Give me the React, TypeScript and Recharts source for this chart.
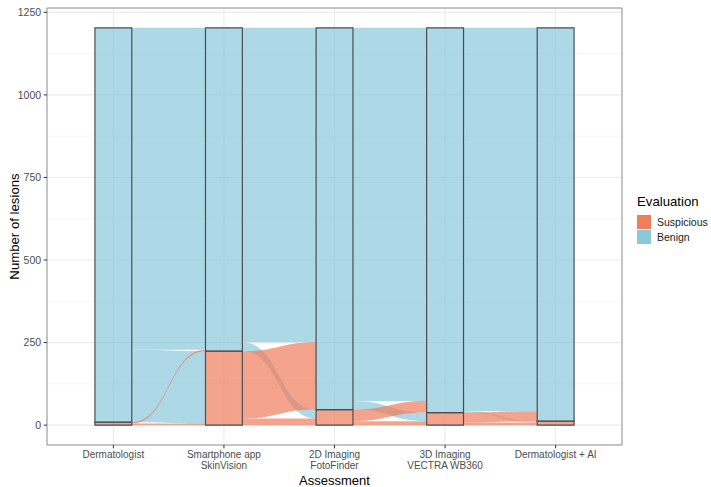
import React from 'react';
import { ComposedChart, Area, XAxis, YAxis, CartesianGrid, ReferenceArea, Legend } from 'recharts';

// ---- data ----
const categories = [
  'Dermatologist',
  'Smartphone app\nSkinVision',
  '2D Imaging\nFotoFinder',
  '3D Imaging\nVECTRA WB360',
  'Dermatologist + AI',
];
const evaluations = ['Suspicious', 'Benign'];
const suspiciousCounts = [9, 224, 47, 38, 12];
const benignCounts = [1194, 979, 1156, 1165, 1191];
// flows between consecutive assessments (left evaluation -> right evaluation)
const flowSusToSus = [5, 20, 12, 8];
const flowSusToBen = [4, 204, 35, 30];
const flowBenToSus = [219, 27, 26, 4];
const flowBenToBen = [975, 952, 1130, 1161];
const yTicks = [0, 250, 500, 750, 1000, 1250];
const yMinorTicks = [125, 375, 625, 875, 1125];
const xTicks = [1, 2, 3, 4, 5];

// ---- style ----
const COLORS: Record<string, string> = { Suspicious: '#EF7E5B', Benign: '#8AC8DC' };
const ALPHA = 0.7;
const HALF = 1 / 6;
const FONT = '"Liberation Sans", Arial, Helvetica, sans-serif';

const total = suspiciousCounts[0] + benignCounts[0];
const pad = total * 0.05;
const yDomain = [-pad, total + pad];
const xDomain = [0.4, 5.6];

type Flow = { key: string; color: string; data: { x: number; r: [number, number] }[] };

function buildFlows(): Flow[] {
  const blue: Flow[] = [];
  const salmon: Flow[] = [];
  for (let g = 0; g < flowSusToSus.length; g++) {
    const ss = flowSusToSus[g];
    const sb = flowSusToBen[g];
    const bs = flowBenToSus[g];
    const bb = flowBenToBen[g];
    const sL = suspiciousCounts[g];
    const sR = suspiciousCounts[g + 1];
    const xl = g + 1 + HALF;
    const xr = g + 2 - HALF;
    const mk = (a: [number, number], b: [number, number]) => [
      { x: xl, r: a },
      { x: xr, r: b },
    ];
    blue.push({ key: `bb${g}`, color: COLORS.Benign, data: mk([sL + bs, sL + bs + bb], [sR + sb, sR + sb + bb]) });
    blue.push({ key: `bs${g}`, color: COLORS.Benign, data: mk([sL, sL + bs], [ss, ss + bs]) });
    salmon.push({ key: `ss${g}`, color: COLORS.Suspicious, data: mk([0, ss], [0, ss]) });
    salmon.push({ key: `sb${g}`, color: COLORS.Suspicious, data: mk([ss, ss + sb], [sR, sR + sb]) });
  }
  return [...blue, ...salmon];
}

const flows = buildFlows();

const XTick = (props: any) => {
  const { x, y, payload } = props;
  const lines = categories[payload.value - 1].split('\n');
  return (
    <g>
      {lines.map((l, i) => (
        <text
          key={i}
          x={x}
          y={y + 7 + i * 11.6}
          textAnchor="middle"
          fill="#4D4D4D"
          fontSize={10}
          fontFamily={FONT}
        >
          {l}
        </text>
      ))}
    </g>
  );
};

const YTick = (props: any) => {
  const { x, y, payload } = props;
  return (
    <text x={x} y={y} dy="0.36em" textAnchor="end" fill="#4D4D4D" fontSize={10.5} fontFamily={FONT}>
      {payload.value}
    </text>
  );
};

const LegendContent = () => (
  <div style={{ fontFamily: FONT }}>
    <div style={{ fontSize: 13.2, lineHeight: '16px', color: '#000', marginBottom: 5 }}>Evaluation</div>
    {evaluations.map((ev) => (
      <div key={ev} style={{ display: 'flex', alignItems: 'center', height: 14.5 }}>
        <div
          style={{
            width: 14,
            height: 14,
            background: COLORS[ev],
          }}
        />
        <span style={{ fontSize: 10.5, marginLeft: 6, color: '#1A1A1A' }}>{ev}</span>
      </div>
    ))}
  </div>
);

export default function App() {
  return (
    <div style={{ position: 'absolute', left: 0, top: 0, background: '#fff' }}>
      <ComposedChart width={711} height={487} margin={{ top: 8, right: 89, bottom: 0, left: 0 }}>
        <CartesianGrid
          horizontalValues={yMinorTicks}
          vertical={false}
          stroke="#F0F0F0"
          strokeWidth={0.6}
        />
        <CartesianGrid
          horizontalValues={yTicks}
          verticalValues={xTicks}
          stroke="#EBEBEB"
          strokeWidth={1.1}
        />
        <XAxis
          type="number"
          dataKey="x"
          domain={xDomain}
          allowDataOverflow
          ticks={xTicks}
          interval={0}
          height={42}
          axisLine={false}
          tickLine={{ stroke: '#333333' }}
          tickSize={3.3}
          tickMargin={2.2}
          tick={<XTick />}
          label={{
            value: 'Assessment',
            position: 'insideBottom',
            offset: 2.5,
            style: { fontSize: 13, fill: '#000', fontFamily: FONT },
          }}
        />
        <YAxis
          type="number"
          domain={yDomain}
          allowDataOverflow
          ticks={yTicks}
          width={47}
          axisLine={false}
          tickLine={{ stroke: '#333333' }}
          tickSize={3.3}
          tickMargin={2.6}
          tick={<YTick />}
          label={{
            value: 'Number of lesions',
            angle: -90,
            position: 'insideLeft',
            offset: 14,
            style: { textAnchor: 'middle', fontSize: 13.2, fill: '#000', fontFamily: FONT },
          }}
        />
        {flows.map((f) => (
          <Area
            key={f.key}
            data={f.data}
            dataKey="r"
            type="bumpX"
            fill={f.color}
            fillOpacity={ALPHA}
            stroke="none"
            dot={false}
            activeDot={false}
            isAnimationActive={false}
            legendType="none"
          />
        ))}
        {categories.map((c, i) => (
          <ReferenceArea
            key={`s-${c}`}
            x1={i + 1 - HALF}
            x2={i + 1 + HALF}
            y1={0}
            y2={suspiciousCounts[i]}
            fill={COLORS.Suspicious}
            fillOpacity={ALPHA}
            stroke="#4D4D4D"
            strokeWidth={1.2}
            ifOverflow="visible"
          />
        ))}
        {categories.map((c, i) => (
          <ReferenceArea
            key={`b-${c}`}
            x1={i + 1 - HALF}
            x2={i + 1 + HALF}
            y1={suspiciousCounts[i]}
            y2={suspiciousCounts[i] + benignCounts[i]}
            fill={COLORS.Benign}
            fillOpacity={ALPHA}
            stroke="#4D4D4D"
            strokeWidth={1.2}
            ifOverflow="visible"
          />
        ))}
        <ReferenceArea
          x1={xDomain[0]}
          x2={xDomain[1]}
          y1={yDomain[0]}
          y2={yDomain[1]}
          fill="none"
          stroke="#8A8A8A"
          strokeWidth={1}
          ifOverflow="visible"
        />
        <Legend
          layout="vertical"
          align="center"
          verticalAlign="middle"
          content={<LegendContent />}
          wrapperStyle={{ left: 637, top: 194, width: 74 }}
        />
      </ComposedChart>
    </div>
  );
}
